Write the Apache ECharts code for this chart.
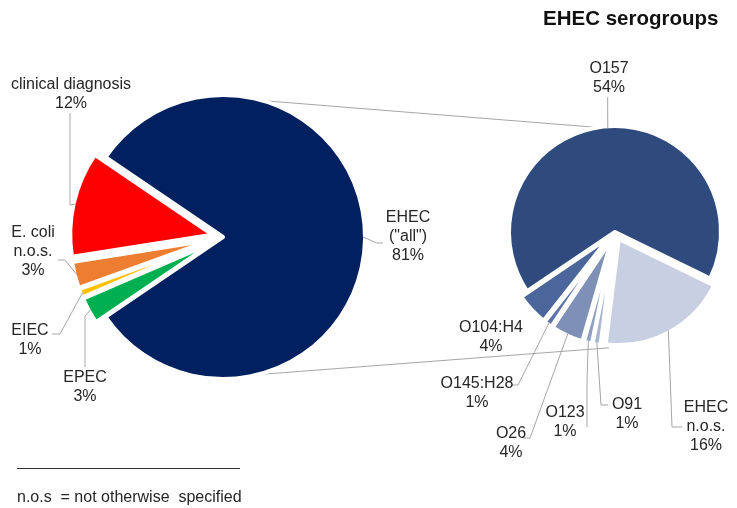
<!DOCTYPE html>
<html>
<head>
<meta charset="utf-8">
<script src="https://cdn.jsdelivr.net/npm/echarts@6/dist/echarts.min.js"></script>
<style>
html,body{margin:0;padding:0;background:#fff;}
#chart{width:737px;height:508px;}
</style>
</head>
<body>
<div id="chart"></div>
<script>
// ---- data ----
const leftNames = ['EHEC\n("all")', 'EPEC', 'EIEC', 'E. coli\nn.o.s.', 'clinical diagnosis'];
const leftValues = [81, 3, 1, 3, 12];
const leftExploded = [false, true, true, true, true];

const rightNames = ['EHEC\nn.o.s.', 'O91', 'O123', 'O26', 'O145:H28', 'O104:H4', 'O157'];
const rightValues = [16, 1, 1, 4, 1, 4, 54];
const rightExploded = [true, true, true, true, true, true, false];

const titleText = 'EHEC serogroups';
const footnoteText = 'n.o.s  = not otherwise  specified';

// ---- layout / style ----
const leftColors = ['#002060', '#00B050', '#FFC000', '#ED7D31', '#FF0000'];
const rightColors = ['#C8CFE2', '#A9B6D1', '#8F9FC2', '#7F90B6', '#5C75A7', '#4B669A', '#2F4B7E'];
const L = { cx: 223, cy: 237, r: 142, start: 145.8, off: 11 };
const R = { cx: 615, cy: 232, r: 106, start: -26, off: 8 };
// label block centres and leader line bends
const leftLabelLayout = [
  { x: 408, y: 237, line: [[377, 243], [383, 243]] },
  { x: 85, y: 387, line: [[85, 316], [85, 367]] },
  { x: 30, y: 340, line: [[60, 334], [52, 334]] },
  { x: 33, y: 252, line: [[65, 260], [58, 260]] },
  { x: 71, y: 94, line: [[70, 205], [70, 113]] }
];
const rightLabelLayout = [
  { x: 706, y: 427, line: [[672, 427], [682, 427]] },
  { x: 627, y: 414, line: [[601, 405], [608, 405]] },
  { x: 565, y: 422, line: [[587, 380], [587, 427]] },
  { x: 511, y: 443, line: [[530, 438], [523, 438]] },
  { x: 477, y: 393, line: [[518, 385], [512, 385]] },
  { x: 491, y: 337, line: null },
  { x: 609, y: 78, line: [[607.7, 112], [607.7, 97]] }
];

function midAngles(values, start) {
  const total = values.reduce((a, b) => a + b, 0);
  let cum = 0;
  return values.map(v => {
    const m = start - (cum + v / 2) / total * 360;
    cum += v;
    return m;
  });
}
function anchor(P, values, exploded, i) {
  const m = midAngles(values, P.start)[i] * Math.PI / 180;
  const rr = P.r - 2 + (exploded[i] ? P.off : 0);
  return [P.cx + rr * Math.cos(m), P.cy - rr * Math.sin(m)];
}
function polar(P, deg, rr) {
  const a = deg * Math.PI / 180;
  return [P.cx + rr * Math.cos(a), P.cy - rr * Math.sin(a)];
}

const textStyle = { fontFamily: 'Liberation Sans, Arial, sans-serif', fontSize: 16, color: '#262626', lineHeight: 19 };

// slices (exploded via selection), no labels
function sliceSeries(P, names, values, colors, exploded) {
  return {
    type: 'pie',
    center: [P.cx, P.cy],
    radius: P.r,
    startAngle: P.start,
    clockwise: true,
    selectedMode: 'multiple',
    selectedOffset: P.off,
    silent: true,
    z: 3,
    itemStyle: { borderColor: '#ffffff', borderWidth: 4, borderJoin: 'round' },
    label: { show: false },
    labelLine: { show: false },
    emphasis: { disabled: true },
    data: names.map((n, i) => ({ name: n, value: values[i], selected: exploded[i], itemStyle: { color: colors[i] } }))
  };
}
// same pie, invisible sectors, carrying the labels and leader lines
function labelSeries(P, names, values, exploded, layout) {
  return {
    type: 'pie',
    center: [P.cx, P.cy],
    radius: P.r,
    startAngle: P.start,
    clockwise: true,
    silent: true,
    avoidLabelOverlap: false,
    z: 4,
    itemStyle: { color: 'rgba(0,0,0,0)', borderWidth: 0 },
    label: Object.assign({ show: true, position: 'outside', formatter: '{b}\n{c}%' }, textStyle),
    labelLine: { show: true, length: 10, length2: 10, lineStyle: { color: '#a6a6a6', width: 1 } },
    labelLayout: function (p) {
      const o = layout[p.dataIndex];
      const res = { x: o.x, y: o.y, align: 'center', verticalAlign: 'middle' };
      if (o.line) res.labelLinePoints = [anchor(P, values, exploded, p.dataIndex), o.line[0], o.line[1]];
      return res;
    },
    emphasis: { disabled: true },
    data: names.map((n, i) => ({ name: n, value: values[i], labelLine: { show: !!layout[i].line } }))
  };
}

const topA = polar(L, 79, 140), topB = polar(R, 94, 104);
const botA = polar(L, -83, 140), botB = polar(R, -93, 116);

const chart = echarts.init(document.getElementById('chart'), null, { renderer: 'canvas' });
chart.setOption({
  animation: false,
  backgroundColor: '#ffffff',
  title: {
    text: titleText, left: 538, top: 4,
    textStyle: { fontFamily: 'Liberation Sans, Arial, sans-serif', fontSize: 20.5, fontWeight: 'bold', color: '#111111' }
  },
  graphic: [
    { type: 'line', z: 1, shape: { x1: topA[0], y1: topA[1], x2: topB[0], y2: topB[1] }, style: { stroke: '#a6a6a6', lineWidth: 1 } },
    { type: 'line', z: 1, shape: { x1: botA[0], y1: botA[1], x2: botB[0], y2: botB[1] }, style: { stroke: '#a6a6a6', lineWidth: 1 } },
    { type: 'line', z: 1, shape: { x1: 17, y1: 468.5, x2: 240, y2: 468.5 }, style: { stroke: '#333333', lineWidth: 1 } },
    { type: 'text', z: 1, left: 17, top: 490, style: { text: footnoteText, font: '16px "Liberation Sans", Arial, sans-serif', fill: '#262626' } }
  ],
  series: [
    sliceSeries(L, leftNames, leftValues, leftColors, leftExploded),
    sliceSeries(R, rightNames, rightValues, rightColors, rightExploded),
    labelSeries(L, leftNames, leftValues, leftExploded, leftLabelLayout),
    labelSeries(R, rightNames, rightValues, rightExploded, rightLabelLayout)
  ]
});
</script>
</body>
</html>
